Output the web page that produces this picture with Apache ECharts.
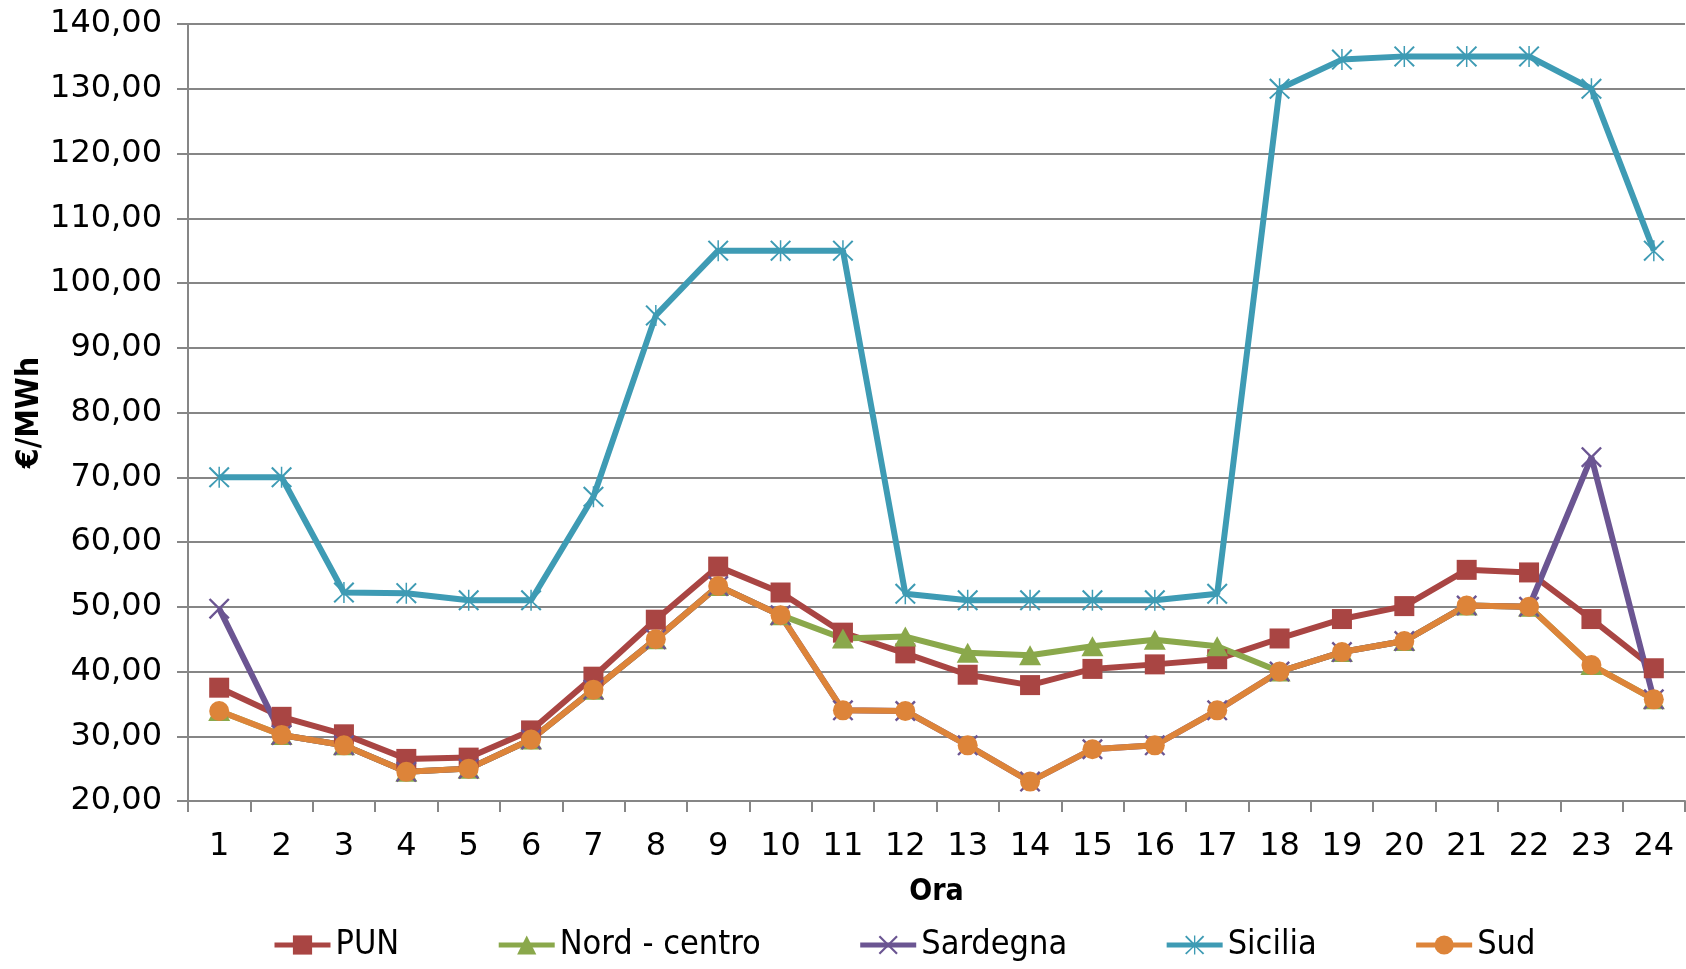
<!DOCTYPE html>
<html>
<head>
<meta charset="utf-8">
<script src="https://cdn.jsdelivr.net/npm/echarts@6/dist/echarts.min.js"></script>
<style>
  html, body { margin: 0; padding: 0; background: #fff; }
  #chart { width: 1686px; height: 969px; }
</style>
</head>
<body>
<div id="chart"></div>
<script>
// Hourly zonal prices (€/MWh)
const hours = ['1','2','3','4','5','6','7','8','9','10','11','12','13','14','15','16','17','18','19','20','21','22','23','24'];

const pun        = [37.5, 33.0, 30.3, 26.5, 26.7, 30.9, 39.2, 48.0, 56.2, 52.2, 46.0, 42.8, 39.5, 37.9, 40.4, 41.1, 41.9, 45.1, 48.1, 50.1, 55.7, 55.3, 48.1, 40.5];
const nordCentro = [33.9, 30.2, 28.6, 24.5, 25.0, 29.5, 37.2, 45.0, 53.2, 48.7, 45.1, 45.4, 42.9, 42.5, 43.9, 44.9, 43.9, 40.0, 43.0, 44.7, 50.2, 50.0, 41.0, 35.7];
const sardegna   = [49.7, 30.2, 28.6, 24.5, 25.0, 29.5, 37.2, 45.0, 53.2, 48.7, 34.0, 33.9, 28.6, 23.0, 28.0, 28.6, 34.0, 40.0, 43.0, 44.7, 50.2, 50.0, 73.1, 35.7];
const sicilia    = [70.0, 70.0, 52.2, 52.1, 51.0, 51.0, 67.0, 95.0, 105.0, 105.0, 105.0, 52.0, 51.0, 51.0, 51.0, 51.0, 52.0, 130.0, 134.5, 135.0, 135.0, 135.0, 130.0, 105.0];
const sud        = [33.9, 30.2, 28.6, 24.5, 25.0, 29.5, 37.2, 45.0, 53.2, 48.7, 34.0, 33.9, 28.6, 23.0, 28.0, 28.6, 34.0, 40.0, 43.0, 44.7, 50.2, 50.0, 41.0, 35.7];

const seriesNames = ['PUN', 'Nord - centro', 'Sardegna', 'Sicilia', 'Sud'];

// Marker shapes drawn as filled thin bars
const crossPath = 'path://M1.6,0 L10,8.4 L18.4,0 L20,1.6 L11.6,10 L20,18.4 L18.4,20 L10,11.6 L1.6,20 L0,18.4 L8.4,10 L0,1.6 Z';
const starPath  = 'path://M1.4,0 L10,8.6 L18.6,0 L20,1.4 L11,10.4 L20,18.6 L18.6,20 L10,11.4 L1.4,20 L0,18.6 L9,10.4 L0,1.4 Z M9.3,0 L10.7,0 L10.7,20 L9.3,20 Z';

const colors = ['#a94543', '#8aa84b', '#6b5592', '#3e9bb4', '#dd8439'];

const numFont = "'DejaVu Sans', sans-serif";
const condFont = "'DejaVu Sans Condensed', 'Liberation Sans Narrow', sans-serif";

function lineSeries(name, data, color, symbol, size) {
  return {
    name: name,
    type: 'line',
    data: data,
    symbol: symbol,
    symbolSize: size,
    showAllSymbol: true,
    lineStyle: { color: color, width: 6 },
    itemStyle: { color: color, borderColor: color, borderWidth: 0 },
    emphasis: { disabled: true },
    animation: false
  };
}

const chart = echarts.init(document.getElementById('chart'), null, { renderer: 'canvas' });

chart.setOption({
  backgroundColor: '#ffffff',
  animation: false,
  grid: { left: 188, right: 1, top: 24, bottom: 168, containLabel: false, outerBoundsMode: 'none' },
  legend: {
    bottom: 2,
    left: 267,
    itemWidth: 56,
    itemHeight: 24,
    itemGap: 97,
    lineStyle: { width: 5 },
    textStyle: { fontFamily: condFont, fontSize: 34, color: '#000' },
    data: seriesNames
  },
  xAxis: {
    type: 'category',
    data: hours,
    boundaryGap: true,
    name: 'Ora',
    nameLocation: 'middle',
    nameGap: 76,
    nameMoveOverlap: false,
    nameTextStyle: { fontFamily: condFont, fontWeight: 'bold', fontSize: 30, color: '#000' },
    axisLine: { lineStyle: { color: '#868686', width: 2 } },
    axisTick: { show: true, length: 11, lineStyle: { color: '#868686', width: 2 }, alignWithLabel: false },
    axisLabel: { fontFamily: numFont, fontSize: 32, color: '#000', margin: 30 },
    splitLine: { show: false }
  },
  yAxis: {
    type: 'value',
    min: 20,
    max: 140,
    interval: 10,
    name: '€/MWh',
    nameLocation: 'middle',
    nameGap: 142,
    nameMoveOverlap: false,
    nameRotate: 90,
    nameTextStyle: { fontFamily: condFont, fontWeight: 'bold', fontSize: 32, color: '#000' },
    axisLine: { show: true, lineStyle: { color: '#868686', width: 2 } },
    axisTick: { show: true, length: 11, inside: false, lineStyle: { color: '#868686', width: 2 } },
    axisLabel: {
      fontFamily: numFont, fontSize: 32, color: '#000', margin: 26,
      formatter: v => v.toFixed(2).replace('.', ',')
    },
    splitLine: { show: true, lineStyle: { color: '#868686', width: 2 } }
  },
  series: [
    lineSeries('PUN', pun, colors[0], 'rect', 20),
    lineSeries('Nord - centro', nordCentro, colors[1], 'triangle', [22, 20]),
    lineSeries('Sardegna', sardegna, colors[2], crossPath, 21),
    lineSeries('Sicilia', sicilia, colors[3], starPath, 21),
    lineSeries('Sud', sud, colors[4], 'circle', 20)
  ]
});
</script>
</body>
</html>
